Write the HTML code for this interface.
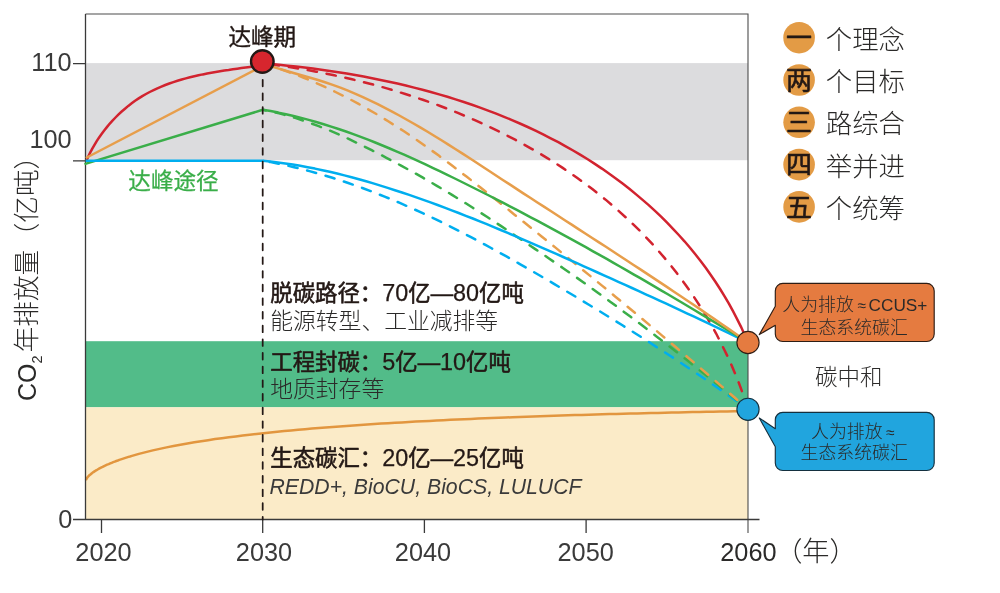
<!DOCTYPE html>
<html lang="zh-CN"><head><meta charset="utf-8"><title>碳达峰碳中和路径</title>
<style>
html,body{margin:0;padding:0;background:#fff;}
body{width:1000px;height:593px;overflow:hidden;}
svg{display:block;}
text{font-family:"Liberation Sans","Noto Sans CJK SC",sans-serif;fill:#2b2a29;}
.l{font-weight:300;}
.n{stroke-width:0.25;font-size:23.4px;}
.t{fill:#3a3a3a;}
.b{font-weight:400;fill:#231815;stroke:#231815;stroke-width:0.6;stroke-linejoin:round;}
.c{fill:none;stroke-width:2.5;stroke-linecap:butt;stroke-linejoin:round;}
.d{stroke-dasharray:9.4 9.8;stroke-linecap:round;}
.r{stroke-width:2.5;}
</style></head><body>
<svg width="1000" height="593" viewBox="0 0 1000 593">
<rect width="1000" height="593" fill="#fff"/>
<!-- bands -->
<rect x="85.5" y="63.1" width="662.5" height="97.1" fill="#dcdcde"/>
<rect x="85.5" y="341.2" width="662.5" height="66.1" fill="#52bc89"/>
<rect x="85.5" y="407.3" width="662.5" height="112.2" fill="#fbebc8"/>
<!-- bottom curve -->
<path class="c" stroke="#e2963f" style="stroke-width:2.5" d="M85.8,480.0 L87.3,477.5 L88.8,475.8 L90.4,474.5 L91.9,473.2 L93.4,472.1 L94.9,471.1 L96.5,470.2 L98.0,469.3 L99.5,468.4 L101.0,467.6 L102.6,466.9 L104.1,466.1 L105.6,465.4 L107.1,464.7 L108.7,464.1 L110.2,463.4 L111.7,462.8 L113.2,462.2 L114.8,461.6 L116.3,461.0 L117.8,460.5 L119.3,459.9 L120.9,459.4 L122.4,458.9 L123.9,458.4 L125.4,457.9 L127.0,457.4 L128.5,456.9 L130.0,456.5 L132.0,455.9 L138.9,453.9 L145.8,452.1 L152.8,450.4 L159.7,448.9 L166.6,447.4 L173.5,446.0 L180.4,444.7 L187.4,443.5 L194.3,442.3 L201.2,441.2 L208.1,440.2 L215.0,439.1 L221.9,438.2 L228.9,437.2 L235.8,436.4 L242.7,435.5 L249.6,434.7 L256.5,433.9 L263.5,433.2 L270.4,432.4 L277.3,431.7 L284.2,431.1 L291.1,430.4 L298.1,429.8 L305.0,429.2 L311.9,428.6 L318.8,428.0 L325.7,427.5 L332.7,426.9 L339.6,426.4 L346.5,425.9 L353.4,425.4 L360.3,424.9 L367.2,424.5 L374.2,424.0 L381.1,423.6 L388.0,423.2 L394.9,422.8 L401.8,422.4 L408.8,422.0 L415.7,421.6 L422.6,421.2 L429.5,420.9 L436.4,420.5 L443.4,420.2 L450.3,419.8 L457.2,419.5 L464.1,419.2 L471.0,418.9 L478.0,418.6 L484.9,418.3 L491.8,418.0 L498.7,417.7 L505.6,417.5 L512.6,417.2 L519.5,416.9 L526.4,416.7 L533.3,416.4 L540.2,416.2 L547.1,416.0 L554.1,415.7 L561.0,415.5 L567.9,415.3 L574.8,415.1 L581.7,414.9 L588.7,414.7 L595.6,414.5 L602.5,414.3 L609.4,414.1 L616.3,413.9 L623.3,413.7 L630.2,413.5 L637.1,413.4 L644.0,413.2 L650.9,413.0 L657.9,412.9 L664.8,412.7 L671.7,412.6 L678.6,412.4 L685.5,412.3 L692.4,412.1 L699.4,412.0 L706.3,411.8 L713.2,411.7 L720.1,411.6 L727.0,411.5 L734.0,411.3 L740.9,411.2 L747.8,411.1"/>
<!-- frame -->
<path d="M85.5,14 H748 V533" fill="none" stroke="#4d4d4d" stroke-width="1.1"/>
<path d="M73,519.5 H759.5 M85.5,14 V519.5 M73,63.6 H85.5 M73,160.8 H85.5 M101.5,519.5 V533 M262.7,519.5 V533 M424.4,519.5 V533 M586.1,519.5 V533" fill="none" stroke="#3a3a3a" stroke-width="1.3"/>
<!-- dashed curves -->
<path class="c d" stroke="#00aeef" stroke-dashoffset="4.9" d="M748.0,409.3 L741.5,404.6 L735.0,400.0 L728.5,395.4 L722.0,390.8 L715.4,386.3 L708.9,381.8 L702.3,377.3 L695.7,372.8 L689.1,368.4 L682.5,364.0 L675.9,359.6 L669.3,355.2 L662.6,350.9 L655.9,346.6 L649.3,342.3 L642.6,338.0 L635.9,333.7 L629.1,329.5 L622.4,325.3 L615.7,321.1 L608.9,316.9 L602.1,312.7 L595.3,308.6 L588.5,304.5 L581.7,300.4 L574.9,296.3 L568.1,292.2 L561.2,288.1 L554.4,284.1 L547.5,280.0 L540.6,276.0 L533.7,272.0 L526.8,268.0 L519.9,264.1 L513.0,260.1 L506.0,256.2 L499.0,252.3 L492.0,248.5 L485.0,244.7 L478.0,240.9 L471.0,237.2 L463.9,233.5 L456.8,229.8 L449.7,226.2 L442.6,222.7 L435.4,219.2 L428.2,215.8 L421.0,212.4 L413.8,209.1 L406.5,205.9 L399.3,202.7 L392.0,199.6 L384.6,196.6 L377.2,193.7 L369.9,190.8 L362.4,188.0 L355.0,185.4 L347.5,182.7 L340.0,180.2 L332.4,177.8 L324.8,175.5 L317.2,173.3 L309.5,171.1 L301.8,169.1 L294.1,167.2 L286.3,165.4 L278.5,163.7 L270.7,162.1 L262.8,160.7"/>
<path class="c d" stroke="#3aae49" stroke-dashoffset="4.9" d="M748.0,409.3 L741.6,404.0 L735.1,398.8 L728.7,393.5 L722.2,388.3 L715.7,383.0 L709.2,377.8 L702.7,372.6 L696.2,367.4 L689.7,362.3 L683.1,357.1 L676.6,352.0 L670.0,346.8 L663.4,341.7 L656.8,336.7 L650.2,331.6 L643.6,326.6 L637.0,321.5 L630.3,316.5 L623.6,311.6 L617.0,306.6 L610.2,301.7 L603.5,296.8 L596.8,291.9 L590.0,287.1 L583.2,282.2 L576.4,277.4 L569.6,272.7 L562.8,267.9 L555.9,263.2 L549.0,258.5 L542.2,253.8 L535.3,249.1 L528.4,244.5 L521.5,239.8 L514.6,235.2 L507.7,230.5 L500.8,225.9 L493.8,221.3 L486.9,216.8 L479.9,212.3 L472.8,207.8 L465.8,203.3 L458.7,199.0 L451.6,194.6 L444.5,190.3 L437.3,186.1 L430.2,181.9 L422.9,177.7 L415.7,173.6 L408.4,169.6 L401.1,165.6 L393.8,161.7 L386.4,157.8 L379.1,153.9 L371.7,150.2 L364.2,146.4 L356.7,142.8 L349.2,139.2 L341.7,135.8 L334.1,132.4 L326.4,129.2 L318.7,126.2 L310.9,123.3 L303.1,120.5 L295.2,117.9 L287.2,115.6 L279.2,113.4 L271.0,111.5 L262.8,109.8"/>
<path class="c d" stroke="#e79e4b" stroke-dashoffset="4.9" d="M748.0,409.3 L741.4,403.6 L734.9,397.8 L728.3,392.1 L721.7,386.4 L715.1,380.7 L708.5,375.1 L701.9,369.4 L695.3,363.7 L688.7,358.1 L682.1,352.5 L675.4,346.8 L668.8,341.2 L662.1,335.6 L655.5,330.0 L648.8,324.4 L642.2,318.9 L635.5,313.3 L628.8,307.8 L622.1,302.2 L615.4,296.7 L608.7,291.1 L602.0,285.6 L595.3,280.1 L588.6,274.6 L581.8,269.1 L575.1,263.6 L568.4,258.1 L561.6,252.6 L554.9,247.1 L548.1,241.7 L541.3,236.2 L534.6,230.7 L527.8,225.3 L521.0,219.8 L514.2,214.4 L507.5,208.9 L500.7,203.5 L493.9,198.1 L487.0,192.7 L480.2,187.3 L473.4,181.9 L466.5,176.6 L459.6,171.3 L452.7,166.0 L445.7,160.8 L438.8,155.6 L431.7,150.5 L424.7,145.5 L417.5,140.5 L410.4,135.6 L403.2,130.8 L395.9,126.1 L388.6,121.5 L381.2,116.9 L373.7,112.5 L366.2,108.2 L358.6,103.9 L351.0,99.8 L343.3,95.8 L335.5,92.0 L327.7,88.2 L319.8,84.6 L311.8,81.1 L303.8,77.8 L295.7,74.6 L287.5,71.6 L279.2,68.7 L270.9,66.0 L262.5,63.4"/>
<path class="c d" stroke="#d2232f" d="M748.0,409.3 L745.2,400.6 L742.2,391.9 L739.0,383.3 L735.6,374.8 L732.0,366.3 L728.3,357.9 L724.3,349.7 L720.2,341.5 L716.0,333.3 L711.5,325.3 L706.9,317.4 L702.2,309.6 L697.2,301.9 L692.2,294.3 L686.9,286.8 L681.6,279.4 L676.0,272.1 L670.4,264.9 L664.5,257.9 L658.6,251.0 L652.5,244.2 L646.3,237.6 L640.0,231.0 L633.5,224.7 L626.9,218.4 L620.2,212.3 L613.4,206.3 L606.5,200.4 L599.4,194.7 L592.3,189.1 L585.0,183.6 L577.7,178.3 L570.2,173.0 L562.7,167.9 L555.0,162.9 L547.3,158.1 L539.5,153.4 L531.6,148.8 L523.6,144.3 L515.6,139.9 L507.4,135.7 L499.2,131.6 L491.0,127.6 L482.6,123.7 L474.3,119.9 L465.8,116.3 L457.3,112.7 L448.8,109.3 L440.2,106.0 L431.5,102.8 L422.8,99.8 L414.1,96.8 L405.3,94.0 L396.5,91.3 L387.7,88.6 L378.8,86.1 L369.9,83.7 L361.0,81.5 L352.1,79.3 L343.2,77.2 L334.2,75.3 L325.2,73.4 L316.3,71.7 L307.3,70.0 L298.3,68.5 L289.4,67.1 L280.4,65.7 L271.4,64.5 L262.5,63.4"/>
<!-- solid curves -->
<path class="c" stroke="#00aeef" d="M262.8,160.7 L270.3,161.5 L277.9,162.4 L285.3,163.4 L292.8,164.5 L300.2,165.8 L307.7,167.2 L315.0,168.6 L322.4,170.2 L329.7,171.8 L337.1,173.5 L344.4,175.4 L351.6,177.3 L358.9,179.2 L366.1,181.3 L373.3,183.4 L380.5,185.6 L387.7,187.9 L394.9,190.2 L402.0,192.5 L409.2,194.9 L416.3,197.4 L423.4,199.9 L430.5,202.4 L437.6,205.0 L444.6,207.7 L451.7,210.3 L458.7,213.0 L465.8,215.8 L472.8,218.5 L479.8,221.4 L486.8,224.2 L493.8,227.1 L500.7,230.0 L507.7,232.9 L514.7,235.8 L521.6,238.8 L528.6,241.8 L535.5,244.8 L542.4,247.8 L549.3,250.9 L556.3,253.9 L563.2,257.0 L570.1,260.1 L577.0,263.2 L583.9,266.3 L590.8,269.4 L597.6,272.5 L604.5,275.6 L611.4,278.7 L618.3,281.8 L625.2,284.9 L632.0,288.0 L638.9,291.2 L645.7,294.3 L652.6,297.4 L659.5,300.6 L666.3,303.7 L673.1,306.9 L680.0,310.1 L686.8,313.3 L693.6,316.4 L700.4,319.7 L707.3,322.9 L714.1,326.1 L720.9,329.4 L727.7,332.6 L734.4,335.9 L741.2,339.2 L748.0,342.5"/>
<path class="c" stroke="#3aae49" d="M262.8,109.8 L270.6,111.1 L278.3,112.6 L285.9,114.3 L293.6,116.0 L301.2,117.9 L308.7,119.9 L316.2,122.0 L323.7,124.2 L331.2,126.6 L338.6,129.0 L346.0,131.5 L353.3,134.1 L360.7,136.8 L368.0,139.6 L375.2,142.5 L382.5,145.5 L389.7,148.5 L396.9,151.6 L404.1,154.7 L411.3,157.9 L418.4,161.1 L425.5,164.4 L432.6,167.8 L439.7,171.2 L446.8,174.6 L453.8,178.0 L460.9,181.5 L467.9,185.0 L474.9,188.5 L481.9,192.0 L488.9,195.5 L495.9,199.1 L502.9,202.7 L509.9,206.3 L516.8,209.9 L523.8,213.6 L530.7,217.3 L537.6,220.9 L544.5,224.7 L551.4,228.4 L558.3,232.1 L565.2,235.9 L572.1,239.6 L578.9,243.4 L585.8,247.2 L592.6,251.1 L599.5,254.9 L606.3,258.7 L613.1,262.6 L619.9,266.5 L626.7,270.4 L633.5,274.3 L640.3,278.2 L647.1,282.1 L653.9,286.1 L660.6,290.1 L667.4,294.0 L674.1,298.0 L680.9,302.0 L687.6,306.0 L694.3,310.0 L701.1,314.1 L707.8,318.1 L714.5,322.1 L721.2,326.2 L727.9,330.3 L734.6,334.3 L741.3,338.4 L748.0,342.5"/>
<path class="c" stroke="#e79e4b" d="M262.5,63.4 L270.2,66.0 L278.0,68.4 L285.8,70.7 L293.6,73.0 L301.5,75.2 L309.4,77.5 L317.2,79.8 L325.0,82.3 L332.7,84.9 L340.4,87.7 L348.0,90.7 L355.5,93.8 L362.9,97.1 L370.3,100.6 L377.7,104.1 L384.9,107.8 L392.1,111.6 L399.3,115.5 L406.4,119.5 L413.5,123.5 L420.6,127.6 L427.6,131.8 L434.5,136.0 L441.5,140.3 L448.4,144.6 L455.3,149.0 L462.2,153.4 L469.0,157.8 L475.9,162.3 L482.7,166.7 L489.6,171.2 L496.4,175.7 L503.2,180.2 L510.1,184.6 L516.9,189.1 L523.7,193.6 L530.6,198.0 L537.4,202.5 L544.3,206.9 L551.1,211.3 L558.0,215.8 L564.8,220.2 L571.7,224.6 L578.5,229.1 L585.3,233.5 L592.2,238.0 L599.0,242.4 L605.9,246.8 L612.7,251.3 L619.5,255.7 L626.4,260.2 L633.2,264.7 L640.0,269.1 L646.8,273.6 L653.6,278.1 L660.4,282.6 L667.2,287.1 L674.0,291.7 L680.8,296.2 L687.5,300.7 L694.3,305.3 L701.1,309.9 L707.8,314.5 L714.5,319.1 L721.2,323.8 L727.9,328.4 L734.6,333.1 L741.3,337.8 L748.0,342.5"/>
<path class="c" stroke="#d2232f" d="M262.5,63.4 L270.9,64.1 L279.2,64.8 L287.6,65.7 L296.0,66.6 L304.5,67.5 L312.9,68.6 L321.3,69.7 L329.8,70.9 L338.3,72.2 L346.7,73.6 L355.2,75.0 L363.6,76.5 L372.1,78.2 L380.5,79.9 L389.0,81.7 L397.4,83.5 L405.8,85.5 L414.1,87.6 L422.5,89.7 L430.8,92.0 L439.1,94.4 L447.4,96.8 L455.6,99.4 L463.8,102.0 L472.0,104.8 L480.1,107.6 L488.1,110.6 L496.2,113.7 L504.1,116.8 L512.0,120.1 L519.9,123.5 L527.7,127.0 L535.5,130.7 L543.1,134.4 L550.7,138.3 L558.3,142.2 L565.7,146.3 L573.1,150.5 L580.5,154.9 L587.7,159.3 L594.8,163.9 L601.9,168.6 L608.9,173.5 L615.8,178.4 L622.6,183.5 L629.3,188.7 L635.8,194.1 L642.3,199.6 L648.7,205.1 L655.0,210.9 L661.1,216.7 L667.1,222.7 L673.0,228.8 L678.8,235.0 L684.5,241.3 L690.0,247.7 L695.3,254.3 L700.6,261.0 L705.7,267.8 L710.6,274.8 L715.4,281.8 L720.1,289.0 L724.6,296.3 L728.9,303.7 L733.0,311.2 L737.0,318.9 L740.9,326.6 L744.5,334.5 L748.0,342.5"/>
<path class="c r" stroke="#3aae49" d="M84.5,164.1 L262.8,109.8"/>
<path class="c r" stroke="#d2232f" d="M86.6,160.2 L88.4,156.3 L90.3,152.4 L92.3,148.6 L94.5,144.8 L96.7,141.1 L99.1,137.5 L101.6,134.0 L104.2,130.5 L106.9,127.1 L109.6,123.8 L112.5,120.6 L115.5,117.5 L118.6,114.4 L121.7,111.5 L125.0,108.7 L128.3,105.9 L131.7,103.3 L135.1,100.8 L138.7,98.4 L142.3,96.1 L146.0,94.0 L149.7,92.0 L153.6,90.1 L157.4,88.3 L161.4,86.6 L165.3,85.0 L169.3,83.5 L173.4,82.1 L177.5,80.8 L181.7,79.5 L185.8,78.4 L190.0,77.3 L194.3,76.3 L198.5,75.3 L202.8,74.4 L207.1,73.6 L211.3,72.8 L215.7,72.0 L220.0,71.3 L224.3,70.6 L228.6,70.0 L232.9,69.3 L237.2,68.7 L241.4,68.1 L245.7,67.5 L249.9,67.0 L254.2,66.4 L258.3,65.8 L262.5,65.2"/>
<path class="c r" stroke="#e79e4b" d="M85.8,158 L262.5,65.9"/>
<path class="c r" stroke="#00aeef" d="M85.7,160.7 H263.5"/>
<!-- vertical dashed -->
<path d="M262.7,79.76 V519.5" stroke="#231815" stroke-width="1.75" stroke-dasharray="6.6 7.06" stroke-linecap="round" fill="none"/>
<!-- peak dot -->
<circle cx="262.3" cy="61.5" r="11.3" fill="#d7262e" stroke="#231815" stroke-width="2.4"/>
<!-- end dots and callouts -->
<path d="M782.8,283.4 H926.7 a7.5,7.5 0 0 1 7.5,7.5 V334.0 a7.5,7.5 0 0 1 -7.5,7.5 H782.8 a7.5,7.5 0 0 1 -7.5,-7.5 V325.2 L759.3,334.6 L775.3,306.3 V290.9 a7.5,7.5 0 0 1 7.5,-7.5 Z" fill="#e57b40" stroke="#2e1d14" stroke-width="1.15" stroke-linejoin="round"/>
<path d="M782.8,412.3 H926.7 a7.5,7.5 0 0 1 7.5,7.5 V463.0 a7.5,7.5 0 0 1 -7.5,7.5 H782.8 a7.5,7.5 0 0 1 -7.5,-7.5 V446.8 L759.3,418 L775.3,428.7 V419.8 a7.5,7.5 0 0 1 7.5,-7.5 Z" fill="#21a5de" stroke="#14303f" stroke-width="1.15" stroke-linejoin="round"/>
<circle cx="748" cy="342.5" r="11.1" fill="#e57b40" stroke="#2e1d14" stroke-width="1.1"/>
<circle cx="748" cy="409.3" r="11.1" fill="#21a5de" stroke="#14303f" stroke-width="1.1"/>
<!-- callout text -->
<text class="l" x="782.3" y="311" font-size="17.9">人为排放<tspan dx="3.5" font-size="15.5">≈</tspan><tspan dx="2.7" font-size="17.2">CCUS+</tspan></text>
<text class="l" x="854.2" y="333.5" font-size="17.9" text-anchor="middle">生态系统碳汇</text>
<text class="l" x="811" y="437.5" font-size="17.9">人为排放<tspan dx="3.5" font-size="15.5">≈</tspan></text>
<text class="l" x="854.2" y="458.5" font-size="17.9" text-anchor="middle">生态系统碳汇</text>
<text class="l" x="848.8" y="385.3" font-size="22.5" text-anchor="middle">碳中和</text>
<!-- axis labels -->
<text class="l" x="71.6" y="71" font-size="25.3" text-anchor="end" style="fill:#3a3a3a">110</text>
<text class="l" x="71.6" y="147.6" font-size="25.3" text-anchor="end" style="fill:#3a3a3a">100</text>
<text class="l" x="72.4" y="528.2" font-size="25.3" text-anchor="end" style="fill:#3a3a3a">0</text>
<text class="l" x="103.5" y="561.2" font-size="25.3" text-anchor="middle" style="fill:#3a3a3a">2020</text>
<text class="l" x="264" y="561.2" font-size="25.3" text-anchor="middle" style="fill:#3a3a3a">2030</text>
<text class="l" x="423" y="561.2" font-size="25.3" text-anchor="middle" style="fill:#3a3a3a">2040</text>
<text class="l" x="585.7" y="561.2" font-size="25.3" text-anchor="middle" style="fill:#3a3a3a">2050</text>
<text class="l" x="720.3" y="561.2" font-size="25.3">2060<tspan font-size="27.2" dx="-1.4">（年）</tspan></text>
<text class="l" transform="translate(36.4,401) rotate(-90)" font-size="25"><tspan>CO</tspan><tspan font-size="14.5" dy="5.5">2</tspan><tspan dy="-5.5" dx="3.2" font-size="25.6">年排放量<tspan font-size="26.6" dx="0.6">（亿吨）</tspan></tspan></text>
<!-- in-plot labels -->
<text class="b" x="262.3" y="44.6" font-size="22.6" text-anchor="middle" style="stroke-width:0.4">达峰期</text>
<text x="128.3" y="188.5" font-size="22.6" style="fill:#3aae49;stroke:#3aae49;stroke-width:0.25">达峰途径</text>
<text class="b" x="270.3" y="301" font-size="22.4">脱碳路径：<tspan class="n">70</tspan>亿—<tspan class="n">80</tspan>亿吨</text>
<text class="l" x="270.2" y="329.4" font-size="22.8">能源转型、工业减排等</text>
<text class="b" x="270.3" y="369.5" font-size="22.4">工程封碳：<tspan class="n">5</tspan>亿—<tspan class="n">10</tspan>亿吨</text>
<text class="l" x="270.2" y="396.6" font-size="22.8">地质封存等</text>
<text class="b" x="270.3" y="466" font-size="22.4">生态碳汇：<tspan class="n">20</tspan>亿—<tspan class="n">25</tspan>亿吨</text>
<text class="l t" x="269.5" y="493.9" font-size="22.3" font-style="italic" textLength="312" lengthAdjust="spacingAndGlyphs">REDD+, BioCU, BioCS, LULUCF</text>
<!-- legend -->
<g>
<circle cx="799.1" cy="37.7" r="15.8" fill="#e39b45"/>
<circle cx="799.1" cy="80" r="15.8" fill="#e39b45"/>
<circle cx="799.1" cy="122.3" r="15.8" fill="#e39b45"/>
<circle cx="799.1" cy="164.6" r="15.8" fill="#e39b45"/>
<circle cx="799.1" cy="206.9" r="15.8" fill="#e39b45"/>
<text class="b" x="799.1" y="47.3" font-size="26" text-anchor="middle">一</text>
<text class="b" x="799.1" y="89.6" font-size="26" text-anchor="middle">两</text>
<text class="b" x="799.1" y="131.9" font-size="26" text-anchor="middle">三</text>
<text class="b" x="799.1" y="174.2" font-size="26" text-anchor="middle">四</text>
<text class="b" x="799.1" y="216.5" font-size="26" text-anchor="middle">五</text>
<text class="l" x="825.8" y="48.8" font-size="26.4">个理念</text>
<text class="l" x="825.8" y="91.1" font-size="26.4">个目标</text>
<text class="l" x="825.8" y="133.4" font-size="26.4">路综合</text>
<text class="l" x="825.8" y="175.7" font-size="26.4">举并进</text>
<text class="l" x="825.8" y="218.0" font-size="26.4">个统筹</text>
</g>
</svg>
</body></html>
